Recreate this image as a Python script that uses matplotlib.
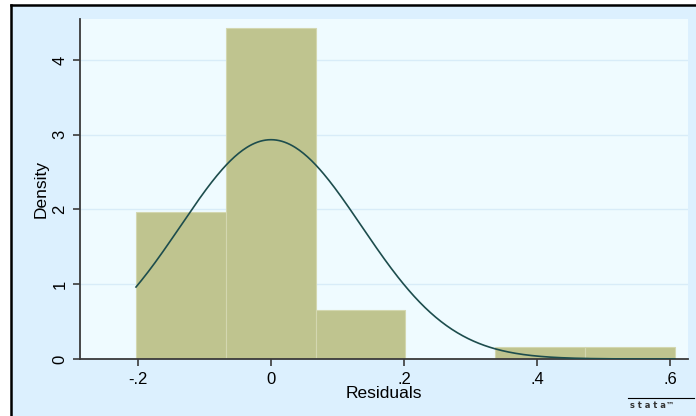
import numpy as np
import matplotlib
matplotlib.use("Agg")
import matplotlib.pyplot as plt
from matplotlib.patches import Rectangle
from matplotlib.lines import Line2D

# Histogram bins (left edges) and densities
bin_edges = [-0.203, -0.068, 0.067, 0.202, 0.337, 0.472, 0.607]
densities = [1.97, 4.43, 0.655, 0.0, 0.165, 0.165]
# Normal density overlay parameters
norm_mean = 0.0
norm_sd = 0.136
x_ticks = [-0.2, 0, 0.2, 0.4, 0.6]
x_tick_labels = ["-.2", "0", ".2", ".4", ".6"]
y_ticks = [0, 1, 2, 3, 4]

plt.rcParams['font.family'] = ['Liberation Sans', 'DejaVu Sans']

fig = plt.figure(figsize=(6.96, 4.16), dpi=100)
fig.patch.set_facecolor('white')

# outer Stata graph region
outer = Rectangle((11 / 696, 0), 1.0, 1 - 4.5 / 416, transform=fig.transFigure,
                  facecolor='#dcf0fe', edgecolor='none', zorder=-5)
fig.add_artist(outer)
fig.add_artist(Line2D([11 / 696, 11 / 696], [0, 1 - 4.5 / 416], transform=fig.transFigure,
                      color='black', lw=1.8, zorder=-4))
fig.add_artist(Line2D([11 / 696, 1], [1 - 4.5 / 416, 1 - 4.5 / 416], transform=fig.transFigure,
                      color='black', lw=1.8, zorder=-4))

ax = fig.add_axes([80 / 696, 1 - 359 / 416, 608 / 696, 340 / 416])
ax.set_zorder(5)
ax.set_facecolor('#effbff')

edges = np.array(bin_edges)
widths = np.diff(edges)
ax.bar(edges[:-1], densities, width=widths, align='edge', color='#bfc48f',
       edgecolor='#d3d7b0', linewidth=0.8, zorder=2)

xs = np.linspace(bin_edges[0], bin_edges[-1], 400)
ys = np.exp(-0.5 * ((xs - norm_mean) / norm_sd) ** 2) / (norm_sd * np.sqrt(2 * np.pi))
ax.plot(xs, ys, color='#1d4d4d', lw=1.2, zorder=3)

ax.set_xlim(-0.2872, 0.627)
ax.set_ylim(0, 4.548)

for y in y_ticks[1:]:
    ax.axhline(y, color='#d8ecf8', lw=1.0, zorder=1)

for s in ['top', 'right']:
    ax.spines[s].set_visible(False)
for s in ['left', 'bottom']:
    ax.spines[s].set_color('#3a3a3a')
    ax.spines[s].set_linewidth(1.3)

ax.set_xticks(x_ticks)
ax.set_xticklabels(x_tick_labels, fontsize=12)
ax.set_yticks(y_ticks)
ax.set_yticklabels([str(v) for v in y_ticks], fontsize=12, rotation=90, va='center')
ax.tick_params(axis='both', direction='out', length=5, width=1.2, color='#3a3a3a', pad=4)

ax.set_xlabel('Residuals', fontsize=12.5, labelpad=0)
ax.set_ylabel('Density', fontsize=12.5, labelpad=3)

# stata logo
fig.add_artist(Line2D([628 / 696, 694 / 696], [1 - 398 / 416, 1 - 398 / 416],
                      transform=fig.transFigure, color='black', lw=0.8))
fig.text(630 / 696, 1 - 405 / 416, 's t a t a\u2122', fontsize=6, va='center', ha='left',
         family=['DejaVu Sans'], fontweight='bold', color='#333333')

fig.savefig('out.png', dpi=100, facecolor=fig.get_facecolor())
